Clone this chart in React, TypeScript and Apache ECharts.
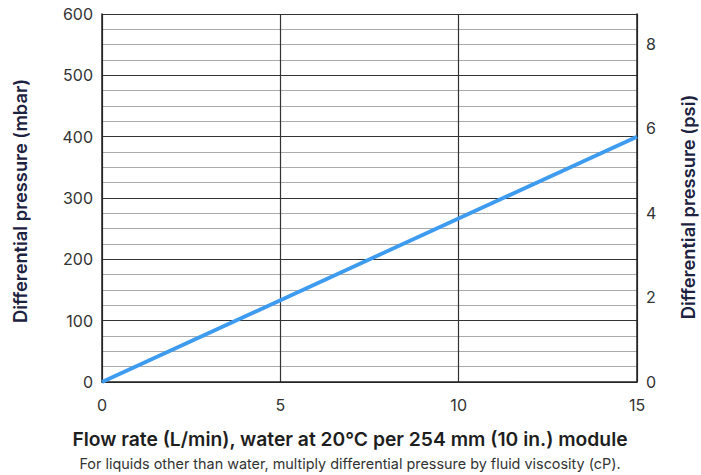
import React, { useEffect, useRef } from "react";
import * as echarts from "echarts";

const flowRates = [0, 15];
const pressuresMbar = [0, 400];
const xTicks = [0, 5, 10, 15];
const mbarToPsi = 0.0145038;
const yMaxMbar = 600;

const titleX = "Flow rate (L/min), water at 20°C per 254 mm (10 in.) module";
const subtitle = "For liquids other than water, multiply differential pressure by fluid viscosity (cP).";
const titleYLeft = "Differential pressure (mbar)";
const titleYRight = "Differential pressure (psi)";

export default function App() {
  const ref = useRef<HTMLDivElement>(null);
  useEffect(() => {
    if (!ref.current) return;
    const chart = echarts.init(ref.current, undefined, { renderer: "svg" });
    const font = "Inter, 'Noto Sans', sans-serif";
    chart.setOption({
      animation: false,
      grid: { left: 102, right: 64, top: 14, bottom: 93, containLabel: false },
      xAxis: {
        type: "value",
        min: xTicks[0],
        max: xTicks[xTicks.length - 1],
        interval: 5,
        axisLine: { show: true, onZero: false, lineStyle: { color: "#222", width: 1.5 } },
        axisTick: { show: false },
        axisLabel: { color: "#333", fontSize: 16, fontFamily: font, margin: 15 },
        splitLine: { show: true, lineStyle: { color: "#333", width: 1.2 } },
      },
      yAxis: [
        {
          type: "value",
          min: 0,
          max: yMaxMbar,
          interval: 100,
          axisLine: { show: true, lineStyle: { color: "#222", width: 1.5 } },
          axisTick: { show: false },
          axisLabel: { color: "#333", fontSize: 16, fontFamily: font, margin: 9 },
          splitLine: { show: true, lineStyle: { color: "#333", width: 1.2 } },
          minorTick: { show: false, splitNumber: 4 },
          minorSplitLine: { show: true, lineStyle: { color: "#aaa", width: 1.2 } },
        },
        {
          type: "value",
          position: "right",
          min: 0,
          max: yMaxMbar * mbarToPsi,
          interval: 2,
          axisLine: { show: true, lineStyle: { color: "#222", width: 1.5 } },
          axisTick: { show: false },
          axisLabel: {
            color: "#333",
            fontSize: 16,
            fontFamily: font,
            margin: 9,
            formatter: (v: number) => (Math.abs(v - Math.round(v)) < 1e-6 ? String(Math.round(v)) : ""),
          },
          splitLine: { show: false },
        },
      ],
      series: [
        {
          type: "line",
          yAxisIndex: 0,
          data: flowRates.map((x, i) => [x, pressuresMbar[i]]),
          showSymbol: false,
          lineStyle: { color: "#3d9bf0", width: 3.8 },
          z: 5,
        },
      ],
      graphic: [
        {
          type: "text",
          x: 350,
          y: 439,
          style: {
            text: titleX,
            fill: "#1e1e1e",
            font: `600 19.3px ${font}`,
            textAlign: "center",
            textVerticalAlign: "middle",
          },
        },
        {
          type: "text",
          x: 350,
          y: 463,
          style: {
            text: subtitle,
            fill: "#333",
            font: `14.4px ${font}`,
            textAlign: "center",
            textVerticalAlign: "middle",
          },
        },
        {
          type: "text",
          x: 20,
          y: 201,
          rotation: Math.PI / 2,
          style: {
            text: titleYLeft,
            fill: "#1c2240",
            font: `600 18.3px ${font}`,
            textAlign: "center",
            textVerticalAlign: "middle",
          },
        },
        {
          type: "text",
          x: 688,
          y: 207,
          rotation: Math.PI / 2,
          style: {
            text: titleYRight,
            fill: "#1c2240",
            font: `600 18.3px ${font}`,
            textAlign: "center",
            textVerticalAlign: "middle",
          },
        },
      ],
    });
    return () => chart.dispose();
  }, []);
  return <div ref={ref} style={{ width: 701, height: 475, position: "absolute", left: 0, top: 0 }} />;
}
